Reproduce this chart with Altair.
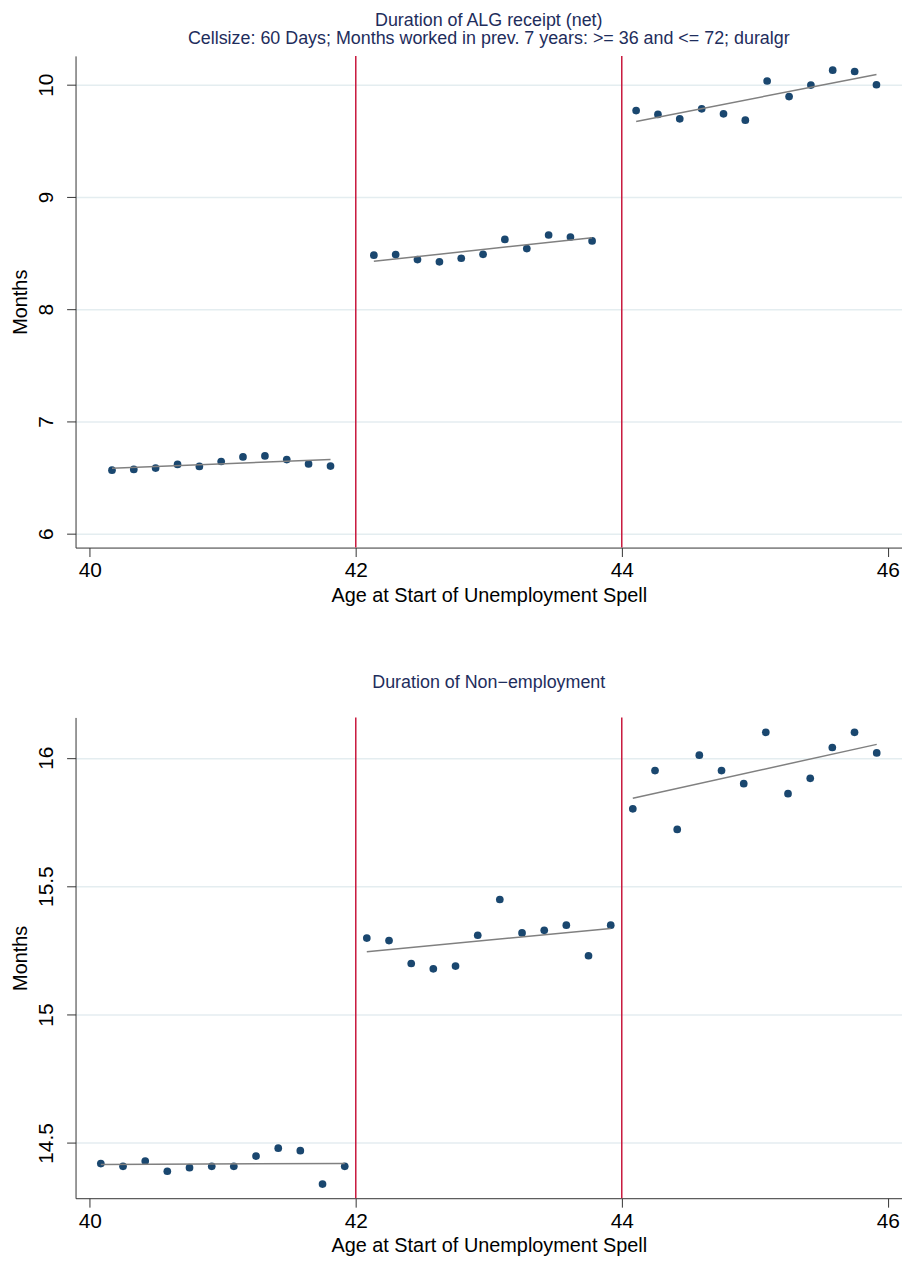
import altair as alt
import pandas as pd

# ---------------- data ----------------
top_x = [40.167, 40.331, 40.495, 40.660, 40.824, 40.988, 41.152, 41.317, 41.481, 41.645, 41.810,
         42.136, 42.300, 42.464, 42.629, 42.793, 42.957, 43.121, 43.286, 43.450, 43.614, 43.777,
         44.108, 44.272, 44.436, 44.601, 44.765, 44.929, 45.093, 45.258, 45.422, 45.586, 45.751, 45.915]
top_y = [6.566, 6.572, 6.584, 6.617, 6.599, 6.643, 6.684, 6.693, 6.660, 6.621, 6.602,
         8.481, 8.487, 8.442, 8.422, 8.454, 8.489, 8.622, 8.540, 8.661, 8.643, 8.608,
         9.770, 9.735, 9.696, 9.785, 9.741, 9.684, 10.033, 9.894, 9.997, 10.130, 10.118, 10.000]
top_seg = [1] * 11 + [2] * 11 + [3] * 12

bot_x = [40.083, 40.250, 40.417, 40.583, 40.750, 40.917, 41.083, 41.250, 41.417, 41.583, 41.750, 41.917,
         42.083, 42.250, 42.417, 42.583, 42.750, 42.917, 43.083, 43.250, 43.417, 43.583, 43.750, 43.917,
         44.083, 44.250, 44.417, 44.583, 44.750, 44.917, 45.083, 45.250, 45.417, 45.583, 45.750, 45.917]
bot_y = [14.420, 14.409, 14.430, 14.390, 14.404, 14.409, 14.409, 14.449, 14.480, 14.470, 14.340, 14.409,
         15.298, 15.288, 15.199, 15.178, 15.189, 15.309, 15.448, 15.318, 15.328, 15.348, 15.229, 15.348,
         15.801, 15.950, 15.721, 16.010, 15.950, 15.899, 16.099, 15.860, 15.920, 16.040, 16.099, 16.019]
bot_seg = [1] * 12 + [2] * 12 + [3] * 12

cutoffs = [42, 44]
x_ticks = [40, 42, 44, 46]
top_y_ticks = [6, 7, 8, 9, 10]
bot_y_ticks = [14.5, 15, 15.5, 16]

top_title = "Duration of ALG receipt (net)"
top_subtitle = "Cellsize: 60 Days; Months worked in prev. 7 years: >= 36 and <= 72; duralgr"
bot_title = "Duration of Non\u2212employment"
x_label = "Age at Start of Unemployment Spell"
y_label = "Months"

# ---------------- styling ----------------
FONT = "Liberation Sans"
NAVY = "#1a476f"
TITLE_COL = "#1e2d5c"
RED = "#c8173c"
FIT = "#808080"
GRID = "#e4edf0"
AX = "#333333"

X_DOMAIN = [39.893, 46.107]


def panel(xs, ys, segs, ydom, yticks, title, subtitle, height, offset):
    df = pd.DataFrame({"age": xs, "months": ys, "seg": segs})
    cut = pd.DataFrame({"age": cutoffs})

    xenc = alt.X("age:Q",
                 scale=alt.Scale(domain=X_DOMAIN, nice=False, zero=False),
                 axis=alt.Axis(values=x_ticks, title=x_label, grid=False, format="d",
                               domainColor=AX, tickColor=AX, tickSize=9,
                               labelFontSize=21, titleFontSize=20, labelColor="#000",
                               titleColor="#000", labelFont=FONT, titleFont=FONT,
                               titleFontWeight="normal", labelPadding=3, titlePadding=5))
    yenc = alt.Y("months:Q",
                 scale=alt.Scale(domain=ydom, nice=False, zero=False),
                 axis=alt.Axis(values=yticks, title=y_label, grid=True, gridColor=GRID,
                               gridWidth=1.5, format="~g",
                               domainColor=AX, tickColor=AX, tickSize=9,
                               labelAngle=-90, labelAlign="center", labelBaseline="bottom",
                               labelFontSize=21, titleFontSize=20, labelColor="#000",
                               titleColor="#000", labelFont=FONT, titleFont=FONT,
                               titleFontWeight="normal", labelPadding=10, titlePadding=5))

    base = alt.Chart(df)
    pts = base.mark_circle(size=60, color=NAVY, opacity=1).encode(x=xenc, y=yenc)
    fit = base.transform_regression("age", "months", groupby=["seg"]).mark_line(
        color=FIT, strokeWidth=1.5).encode(x="age:Q", y="months:Q", detail="seg:N")
    rules = alt.Chart(cut).mark_rule(color=RED, strokeWidth=1.5).encode(x="age:Q")

    tparams = dict(text=title, anchor="middle", frame="group", font=FONT, fontSize=18,
                   fontWeight="normal", color=TITLE_COL, offset=offset)
    if subtitle:
        tparams.update(subtitle=subtitle, subtitleFont=FONT, subtitleFontSize=18,
                       subtitleColor=TITLE_COL, subtitlePadding=0)
    return alt.layer(pts, fit, rules).properties(
        width=832, height=height, title=alt.TitleParams(**tparams))


top = panel(top_x, top_y, top_seg, [5.876, 10.257], top_y_ticks, top_title, top_subtitle, 495, 7)
bot = panel(bot_x, bot_y, bot_seg, [14.285, 16.157], bot_y_ticks, bot_title, None, 484, 25)

chart = alt.vconcat(top, bot, spacing=69).properties(
    padding={"left": 2, "top": 0, "right": 0, "bottom": 0},
    background="white",
).configure_view(stroke=None)

chart.save("out.html", embed_options={"renderer": "svg", "actions": False})
